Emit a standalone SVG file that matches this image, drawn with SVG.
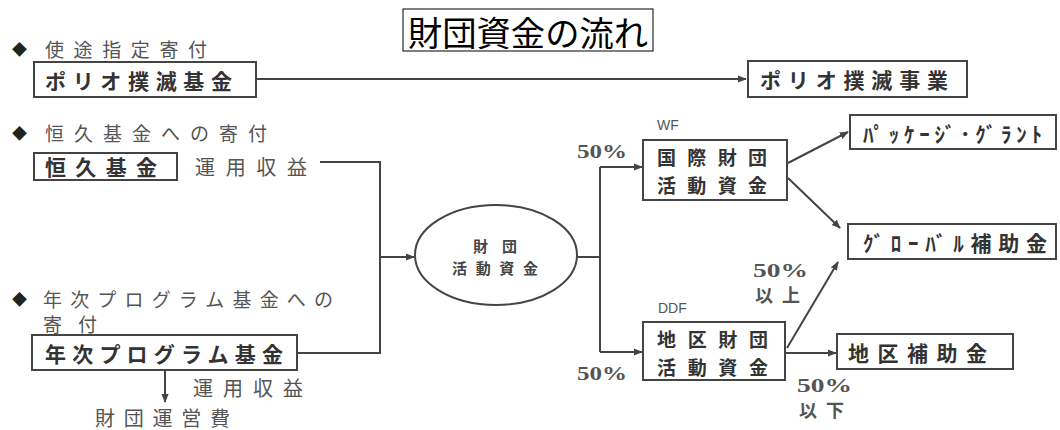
<svg xmlns="http://www.w3.org/2000/svg" width="1060" height="430" viewBox="0 0 1060 430">
<style>
  text { font-family: "Noto Sans CJK JP", "Noto Sans", sans-serif; dominant-baseline: central; }
  .title { font-size: 34px; fill: #000; }
  .bul { font-size: 19px; fill: #555; }
  .dia { font-size: 15px; fill: #222; }
  .lbl { font-size: 21px; font-weight: bold; fill: #333; }
  .big { font-size: 19px; font-weight: bold; fill: #333; }
  .sm { font-size: 15px; font-weight: bold; fill: #444; }
  .min { font-size: 20px; fill: #555; }
  .pct { font-family: "Liberation Serif", serif; font-size: 19px; font-weight: bold; fill: #555; }
  .jp { font-size: 18px; font-weight: bold; fill: #555; }
  .code { font-family: "Liberation Sans", sans-serif; font-size: 14px; fill: #555; }
  .box { fill: #fff; stroke: #444; stroke-width: 2; }
  .conn path { fill: none; stroke: #444; stroke-width: 2; }
</style>
<defs>
  <marker id="arr" viewBox="0 0 10 10" refX="9" refY="5" markerWidth="9" markerHeight="9" markerUnits="userSpaceOnUse" orient="auto">
    <path d="M0,1 L10,5 L0,9 Z" fill="#444"/>
  </marker>
</defs>
<rect width="1060" height="430" fill="#fff"/>

<g id="title">
  <rect x="403" y="9" width="250" height="42" fill="#fff" stroke="#000" stroke-width="1"/>
  <text class="title" x="408" y="31" textLength="240" lengthAdjust="spacingAndGlyphs">財団資金の流れ</text>
</g>

<g id="bullet1">
  <text class="dia" x="12" y="48">◆</text>
  <text class="bul" x="45" y="48" textLength="162" lengthAdjust="spacing">使途指定寄付</text>
</g>
<g id="polio-fund">
  <rect class="box" x="34" y="62" width="222" height="35"/>
  <text class="lbl" x="45" y="80" textLength="187" lengthAdjust="spacing">ポリオ撲滅基金</text>
</g>
<g id="polio-program">
  <rect class="box" x="748" y="61" width="219" height="36"/>
  <text class="lbl" x="760" y="79" textLength="188" lengthAdjust="spacing">ポリオ撲滅事業</text>
</g>

<g id="bullet2">
  <text class="dia" x="12" y="132">◆</text>
  <text class="bul" x="45" y="132" textLength="222" lengthAdjust="spacing">恒久基金への寄付</text>
</g>
<g id="endowment">
  <rect class="box" x="34" y="153" width="143" height="27"/>
  <text class="lbl" x="45" y="166" textLength="112" lengthAdjust="spacing">恒久基金</text>
</g>
<text class="min" x="195" y="166" textLength="112" lengthAdjust="spacing">運用収益</text>

<g id="bullet3">
  <text class="dia" x="12" y="298">◆</text>
  <text class="bul" x="43" y="298" font-size="19" textLength="290" lengthAdjust="spacing">年次プログラム基金への</text>
  <text class="bul" x="43" y="323" font-size="16" textLength="54" lengthAdjust="spacing">寄付</text>
</g>
<g id="annual-fund">
  <rect class="box" x="32" y="335" width="265" height="35"/>
  <text class="lbl" x="45" y="353" textLength="238" lengthAdjust="spacing">年次プログラム基金</text>
</g>
<text class="min" x="193" y="387" font-size="19" textLength="110" lengthAdjust="spacing">運用収益</text>
<text class="min" x="95" y="417" font-size="17" textLength="135" lengthAdjust="spacing">財団運営費</text>

<g id="foundation-funds">
  <ellipse cx="496" cy="255" rx="81" ry="50" fill="#fff" stroke="#444" stroke-width="2"/>
  <text class="sm" x="473" y="245" textLength="44" lengthAdjust="spacing">財団</text>
  <text class="sm" x="452" y="267" textLength="86" lengthAdjust="spacing">活動資金</text>
</g>

<text class="pct" x="577" y="151" textLength="50" lengthAdjust="spacingAndGlyphs">50%</text>
<text class="pct" x="577" y="373" textLength="50" lengthAdjust="spacingAndGlyphs">50%</text>

<g id="wf">
  <text class="code" x="657" y="125">WF</text>
  <rect class="box" x="643" y="140" width="144" height="60"/>
  <text class="big" x="657" y="156" textLength="110" lengthAdjust="spacing">国際財団</text>
  <text class="big" x="657" y="184" textLength="110" lengthAdjust="spacing">活動資金</text>
</g>
<g id="ddf">
  <text class="code" x="658" y="308">DDF</text>
  <rect class="box" x="643" y="322" width="142" height="58"/>
  <text class="big" x="657" y="338" textLength="111" lengthAdjust="spacing">地区財団</text>
  <text class="big" x="657" y="366" textLength="111" lengthAdjust="spacing">活動資金</text>
</g>

<g id="package-grant">
  <rect class="box" x="850" y="115" width="206" height="34"/>
  <text class="lbl" x="863" y="133" font-size="19" textLength="179" lengthAdjust="spacing">ﾊﾟｯｹｰｼﾞ･ｸﾞﾗﾝﾄ</text>
</g>
<g id="global-grant">
  <rect class="box" x="848" y="224" width="208" height="35"/>
  <text class="lbl" x="863" y="242" textLength="184" lengthAdjust="spacing">ｸﾞﾛｰﾊﾞﾙ補助金</text>
</g>
<g id="district-grant">
  <rect class="box" x="837" y="334" width="176" height="35"/>
  <text class="lbl" x="848" y="352" textLength="139" lengthAdjust="spacing">地区補助金</text>
</g>

<text class="pct" x="753" y="270" textLength="55" lengthAdjust="spacingAndGlyphs">50%</text>
<text class="jp" x="755" y="294" textLength="45" lengthAdjust="spacing">以上</text>
<text class="pct" x="797" y="385" textLength="55" lengthAdjust="spacingAndGlyphs">50%</text>
<text class="jp" x="799" y="409" textLength="45" lengthAdjust="spacing">以下</text>

<g class="conn" id="connectors">
  <path d="M257,79 H746" marker-end="url(#arr)"/>
  <path d="M320,162 H380 V353 H298"/>
  <path d="M380,257 H414" marker-end="url(#arr)"/>
  <path d="M577,257 H600"/>
  <path d="M600,167 V352"/>
  <path d="M600,167 H642" marker-end="url(#arr)"/>
  <path d="M600,352 H642" marker-end="url(#arr)"/>
  <path d="M788,163 L848,132" marker-end="url(#arr)"/>
  <path d="M788,178 L840,228" marker-end="url(#arr)"/>
  <path d="M787,348 L838,262" marker-end="url(#arr)"/>
  <path d="M785,353 H836" marker-end="url(#arr)"/>
  <path d="M165,371 V402" marker-end="url(#arr)"/>
</g>
</svg>
